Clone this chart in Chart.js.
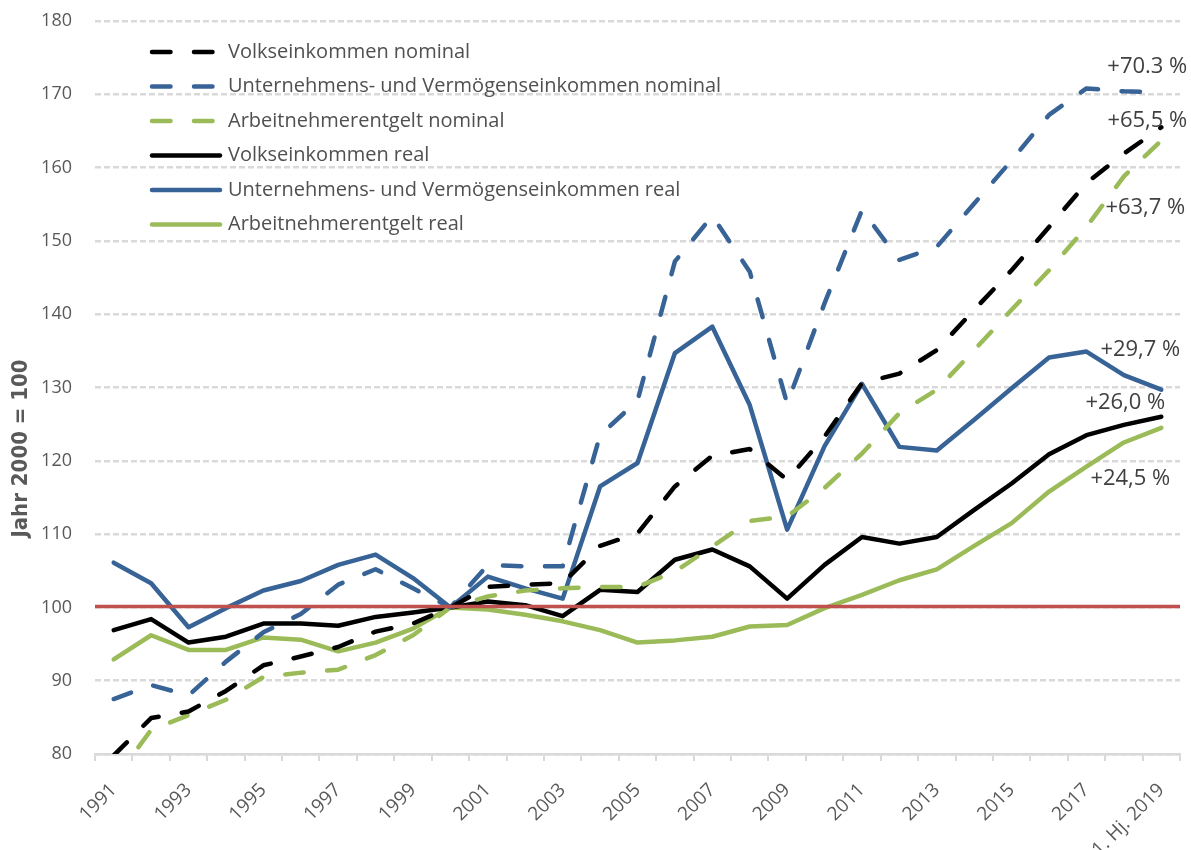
<!DOCTYPE html>
<html lang="de">
<head>
<meta charset="UTF-8">
<title>Volkseinkommen 1991 - 2019</title>
<script src="https://cdn.jsdelivr.net/npm/chart.js"></script>
<style>
  body { margin: 0; background: #fff; }
  #wrap { width: 1191px; height: 850px; }
</style>
</head>
<body>
<div id="wrap"><canvas id="myChart"></canvas></div>

<script>
// Jahr 2000 = 100
const years = ['1991', '1992', '1993', '1994', '1995', '1996', '1997', '1998', '1999', '2000',
    '2001', '2002', '2003', '2004', '2005', '2006', '2007', '2008', '2009', '2010',
    '2011', '2012', '2013', '2014', '2015', '2016', '2017', '2018', '1. Hj. 2019'];

const veNominal = [79.8, 84.9, 85.8, 88.6, 92.1, 93.3, 94.6, 96.7, 97.8, 100,
    102.8, 103.1, 103.3, 108.4, 110.1, 116.5, 120.7, 121.6, 117.4, 123.3,
    130.6, 131.9, 135.1, 140.6, 146.0, 151.9, 157.9, 161.9, 165.5];
const uvNominal = [87.5, 89.4, 88.0, 92.6, 96.6, 99.1, 103.1, 105.2, 102.6, 100,
    105.8, 105.6, 105.6, 123.5, 128.2, 147.2, 153.4, 145.8, 127.8, 141.5,
    154.2, 147.4, 149.2, 155.1, 161.0, 167.2, 170.8, 170.4, 170.3];
const anNominal = [76.3, 83.3, 85.3, 87.4, 90.5, 91.1, 91.5, 93.5, 96.2, 100,
    101.5, 102.3, 102.6, 102.8, 102.8, 104.9, 108.3, 111.8, 112.4, 116.3,
    121.0, 126.5, 129.7, 135.1, 140.6, 146.0, 151.9, 158.8, 163.7];
const veReal = [96.9, 98.4, 95.2, 96.0, 97.8, 97.8, 97.5, 98.7, 99.3, 100,
    100.8, 100.3, 98.8, 102.4, 102.1, 106.5, 107.9, 105.6, 101.2, 105.8,
    109.6, 108.7, 109.6, 113.3, 116.9, 120.9, 123.5, 124.9, 126.0];
const uvReal = [106.1, 103.3, 97.3, 99.9, 102.3, 103.6, 105.8, 107.2, 104.0, 100,
    104.2, 102.6, 101.2, 116.5, 119.7, 134.7, 138.3, 127.6, 110.6, 122.0,
    130.5, 121.9, 121.4, 125.6, 129.9, 134.1, 134.9, 131.7, 129.7];
const anReal = [92.9, 96.2, 94.2, 94.2, 95.9, 95.6, 94.0, 95.2, 97.1, 100,
    99.7, 99.0, 98.1, 96.9, 95.2, 95.5, 96.0, 97.4, 97.6, 99.9,
    101.7, 103.7, 105.2, 108.4, 111.5, 115.8, 119.2, 122.5, 124.5];

const seriesNames = ['Volkseinkommen nominal', 'Unternehmens- und Vermögenseinkommen nominal',
    'Arbeitnehmerentgelt nominal', 'Volkseinkommen real',
    'Unternehmens- und Vermögenseinkommen real', 'Arbeitnehmerentgelt real'];
const endLabels = ['+65,5 %', '+70.3 %', '+63,7 %', '+26,0 %', '+29,7 %', '+24,5 %'];
const baseValue = 100;
const yTitle = 'Jahr 2000 = 100';

const BLACK = '#000000';
const BLUE = '#376396';
const GREEN = '#9bbb59';
const DASH = [18.5, 23.5];

function makeSet(i, data, color, dashed) {
    return {
        label: seriesNames[i],
        data: data,
        borderColor: color,
        backgroundColor: color,
        borderWidth: 4.5,
        borderDash: dashed ? DASH : [],
        borderCapStyle: 'round',
        borderJoinStyle: 'round',
        pointRadius: 0,
        pointHoverRadius: 0,
        tension: 0,
        fill: false,
        endLabel: endLabels[i],
    };
}

const dataSets = [
    makeSet(0, veNominal, BLACK, true),
    makeSet(1, uvNominal, BLUE, true),
    makeSet(2, anNominal, GREEN, true),
    makeSet(3, veReal, BLACK, false),
    makeSet(4, uvReal, BLUE, false),
    makeSet(5, anReal, GREEN, false),
];

// where the end labels sit, relative to the last point (dx = right edge, dy = middle)
const labelOffsets = [[26, -7], [26, -25], [24, 67], [4, -14], [19, -40], [9, 51]];

const extras = {
    id: 'extras',
    afterDatasetsDraw(chart) {
        const { ctx, chartArea } = chart;
        const y = chart.scales.y.getPixelForValue(baseValue);
        ctx.save();
        ctx.strokeStyle = '#c0504d';
        ctx.lineWidth = 3.5;
        ctx.beginPath();
        ctx.moveTo(chartArea.left, y - 1);
        ctx.lineTo(chartArea.right, y - 1);
        ctx.stroke();
        ctx.restore();
    },
    afterDraw(chart) {
        const { ctx, chartArea } = chart;
        ctx.save();

        // legend inside the plot
        ctx.font = '20px "Open Sans"';
        ctx.textBaseline = 'middle';
        ctx.textAlign = 'left';
        chart.data.datasets.forEach((ds, i) => {
            const ly = chartArea.top + 31 + i * 34.5;
            const lx = chartArea.left + 57;
            ctx.strokeStyle = ds.borderColor;
            ctx.lineWidth = ds.borderWidth;
            ctx.lineCap = 'round';
            ctx.setLineDash(ds.borderDash);
            ctx.beginPath();
            ctx.moveTo(lx, ly);
            ctx.lineTo(lx + 68, ly);
            ctx.stroke();
            ctx.setLineDash([]);
            ctx.fillStyle = '#505050';
            ctx.fillText(ds.label, lx + 76, ly);
        });

        // end labels
        ctx.font = '22px "Open Sans"';
        ctx.textAlign = 'right';
        ctx.fillStyle = '#404040';
        chart.data.datasets.forEach((ds, i) => {
            const pt = chart.getDatasetMeta(i).data[ds.data.length - 1];
            ctx.fillText(ds.endLabel, pt.x + labelOffsets[i][0], pt.y + labelOffsets[i][1]);
        });

        // y axis title
        ctx.translate(chartArea.left - 74, (chartArea.top + chartArea.bottom) / 2 + 61);
        ctx.rotate(-Math.PI / 2);
        ctx.textAlign = 'center';
        ctx.font = 'bold 22px "DejaVu Sans Condensed", "Liberation Sans Narrow", "DejaVu Sans", sans-serif';
        ctx.fillStyle = '#595959';
        ctx.fillText(yTitle, 0, 0);
        ctx.restore();
    }
};

const ctx = document.getElementById('myChart');

new Chart(ctx, {
    type: 'line',
    data: {
        labels: years,
        datasets: dataSets,
    },
    options: {
        responsive: true,
        maintainAspectRatio: false,
        animation: false,
        layout: {
            padding: { left: 40, right: 11, top: 21, bottom: 0 },
        },
        plugins: {
            legend: { display: false },
            tooltip: { enabled: false },
        },
        scales: {
            x: {
                offset: true,
                grid: {
                    offset: true,
                    drawOnChartArea: false,
                    drawTicks: true,
                    tickLength: 7,
                    color: '#d9d9d9',
                    lineWidth: 2,
                },
                border: { display: true, color: '#d9d9d9', width: 2.5 },
                ticks: {
                    autoSkip: false,
                    minRotation: 45,
                    maxRotation: 45,
                    padding: 18,
                    color: '#595959',
                    font: { family: 'Open Sans', size: 19 },
                    callback: function (value, index) {
                        return index % 2 === 0 ? this.getLabelForValue(value) : '';
                    },
                },
                afterFit: (scale) => {
                    scale.height = 96;
                    scale.paddingLeft = 0;
                    scale.paddingRight = 0;
                },
            },
            y: {
                min: 80,
                max: 180,
                grid: {
                    color: '#d9d9d9',
                    lineWidth: 2.5,
                    drawTicks: true,
                    tickLength: 21,
                    tickColor: 'rgba(0,0,0,0)',
                },
                border: { display: false, dash: [6, 3] },
                ticks: {
                    stepSize: 10,
                    padding: 2,
                    color: '#595959',
                    font: { family: 'Open Sans', size: 18 },
                },
                afterFit: (scale) => { scale.width = 55; },
            },
        },
    },
    plugins: [extras],
});
</script>
</body>
</html>
